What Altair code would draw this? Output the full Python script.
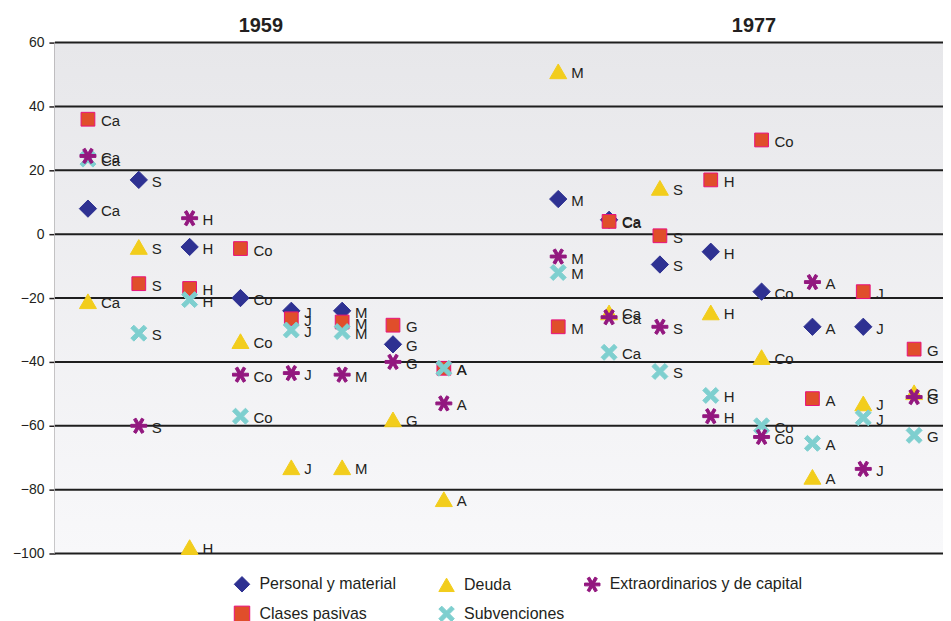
import altair as alt
import pandas as pd

# ---------------- data ----------------
series = ["Personal y material", "Deuda", "Extraordinarios y de capital",
          "Clases pasivas", "Subvenciones"]
draw_order = ["Personal y material", "Deuda", "Clases pasivas",
              "Subvenciones", "Extraordinarios y de capital"]

years = ["1959", "1977"]
regions_1959 = ["Ca", "S", "H", "Co", "J", "M", "G", "A"]
regions_1977 = ["M", "Ca", "S", "H", "Co", "A", "J", "G"]

# 1959 values, in the order of regions_1959 (None = not shown)
personal_1959 = [8, 17, -4, -20, -24, -24, -34.5, None]
deuda_1959 = [-21, -4, -98, -33.5, -73, -73, -58, -83]
extra_1959 = [24.5, -60, 5, -44, -43.5, -44, -40, -53]
clases_1959 = [36, -15.5, -17, -4.5, -26.5, -27.5, -28.5, -42]
subv_1959 = [23.5, -31, -20.5, -57, -30, -30.5, None, -42]

# 1977 values, in the order of regions_1977
personal_1977 = [11, 4.5, -9.5, -5.5, -18, -29, -29, None]
deuda_1977 = [51, -24.5, 14.5, -24.5, -38.5, -76, -53, -49.5]
extra_1977 = [-7, -26, -29, -57, -63.5, -15, -73.5, -51]
clases_1977 = [-29, 4, -0.5, 17, 29.5, -51.5, -18, -36]
subv_1977 = [-12, -37, -43, -50.5, -60, -65.5, -57.5, -63]

y_ticks = [60, 40, 20, 0, -20, -40, -60, -80, -100]

# slot index of each column (second group starts after a gap)
group_start = {"1959": 0.0, "1977": 9.25}
title_slot = [3.4, 13.1]

# ---------------- styles ----------------
colors = ["#2E3192", "#F2CD1C", "#93187F", "#E04E2B", "#7ECFCF"]
strokes = ["#2E3192", "#F2CD1C", "#93187F", "#E8127C", "#7ECFCF"]
marker_size = {"Personal y material": 300, "Deuda": 290,
               "Extraordinarios y de capital": 256, "Clases pasivas": 190,
               "Subvenciones": 256}
asterisk = ("M-1,-0.18L1,-0.18L1,0.18L-1,0.18Z "
            "M-0.656,-0.776L-0.344,-0.956L0.656,0.776L0.344,0.956Z "
            "M0.344,-0.956L0.656,-0.776L-0.344,0.956L-0.656,0.776Z")
xmark = ("M-1,-0.62L-0.62,-1L0,-0.38L0.62,-1L1,-0.62L0.38,0L1,0.62L0.62,1"
         "L0,0.38L-0.62,1L-1,0.62L-0.38,0Z")
shapes = ["diamond", "triangle-up", asterisk, "square", xmark]

# ---------------- table ----------------
table = {
    ("1959", "Personal y material"): personal_1959,
    ("1959", "Deuda"): deuda_1959,
    ("1959", "Extraordinarios y de capital"): extra_1959,
    ("1959", "Clases pasivas"): clases_1959,
    ("1959", "Subvenciones"): subv_1959,
    ("1977", "Personal y material"): personal_1977,
    ("1977", "Deuda"): deuda_1977,
    ("1977", "Extraordinarios y de capital"): extra_1977,
    ("1977", "Clases pasivas"): clases_1977,
    ("1977", "Subvenciones"): subv_1977,
}
regions = {"1959": regions_1959, "1977": regions_1977}

rows = []
for s in draw_order:
    for yr in years:
        for i, (reg, v) in enumerate(zip(regions[yr], table[(yr, s)])):
            if v is None:
                continue
            rows.append({"serie": s, "year": yr, "region": reg,
                         "slot": group_start[yr] + i, "value": v,
                         "msize": marker_size[s]})
df = pd.DataFrame(rows)
df_ticks = pd.DataFrame({"value": y_ticks})
df_titles = pd.DataFrame({"year": years, "slot": title_slot})

# ---------------- chart ----------------
W, H = 890, 512
PX_PER_SLOT = 50.95
x_min = -0.65
x_scale = alt.Scale(domain=[x_min, x_min + W / PX_PER_SLOT], nice=False, zero=False)
y_scale = alt.Scale(domain=[-100, 60], nice=False, zero=False)
y_axis = alt.Axis(values=y_ticks, title=None, grid=False, domainColor="#231F20",
                  domainWidth=2, tickColor="#231F20", tickWidth=1.5, tickSize=6,
                  labelFontSize=14, labelPadding=5, labelColor="#231F20")
FONT = "Liberation Sans"
TXT = "#231F20"

bg = alt.Chart(df_ticks).mark_rect(
    color=alt.Gradient(gradient="linear", x1=0, x2=0, y1=0, y2=1,
                       stops=[alt.GradientStop(color="#E7E7EA", offset=0),
                              alt.GradientStop(color="#F8F8FA", offset=1)])
).encode(x=alt.value(0), x2=alt.value(W), y=alt.value(0), y2=alt.value(H))

rules = alt.Chart(df_ticks).mark_rule(color="#1E1E1E", strokeWidth=2).encode(
    y=alt.Y("value:Q", scale=y_scale, axis=y_axis),
    x=alt.value(0), x2=alt.value(W))

# trailing no-break spaces (kept by a zero-width space) widen the first legend
# column as in the original layout
PAD = "\u00a0" * 5 + "\u200b"
legend = alt.Legend(orient="none", legendX=179, legendY=534, columns=3, title=None,
                    direction="horizontal", labelLimit=400,
                    labelExpr="datum.label == 'Personal y material' ? datum.label + '"
                              + PAD + "' : datum.label",
                    labelFontSize=16, labelColor=TXT, labelFont=FONT,
                    rowPadding=9, columnPadding=17, labelOffset=9, padding=0,
                    symbolStrokeWidth=1, symbolSize=240)

points = alt.Chart(df).mark_point(filled=True, opacity=1, strokeWidth=1).encode(
    x=alt.X("slot:Q", scale=x_scale, axis=None),
    y=alt.Y("value:Q", scale=y_scale, axis=y_axis),
    color=alt.Color("serie:N", scale=alt.Scale(domain=series, range=colors), legend=legend),
    stroke=alt.Stroke("serie:N", scale=alt.Scale(domain=series, range=strokes), legend=legend),
    shape=alt.Shape("serie:N", scale=alt.Scale(domain=series, range=shapes), legend=legend),
    size=alt.Size("msize:Q", scale=None),
)

labels = alt.Chart(df).mark_text(align="left", baseline="middle", dx=13, dy=2,
                                 fontSize=15, color=TXT, font=FONT).encode(
    x=alt.X("slot:Q", scale=x_scale, axis=None),
    y=alt.Y("value:Q", scale=y_scale, axis=y_axis),
    text="region:N")

titles = alt.Chart(df_titles).mark_text(fontSize=20, fontWeight="bold", color=TXT,
                                        baseline="middle", font=FONT).encode(
    x=alt.X("slot:Q", scale=x_scale, axis=None),
    y=alt.value(-17),
    text="year:N")

chart = alt.layer(bg, rules, points, labels, titles).properties(
    width=W, height=H,
    padding={"left": 47, "top": 34, "right": 0, "bottom": 72},
    autosize=alt.AutoSizeParams(type="none"),
).configure(font=FONT).configure_view(strokeWidth=0)

chart.save("out.html", embed_options={"renderer": "svg", "actions": False})
